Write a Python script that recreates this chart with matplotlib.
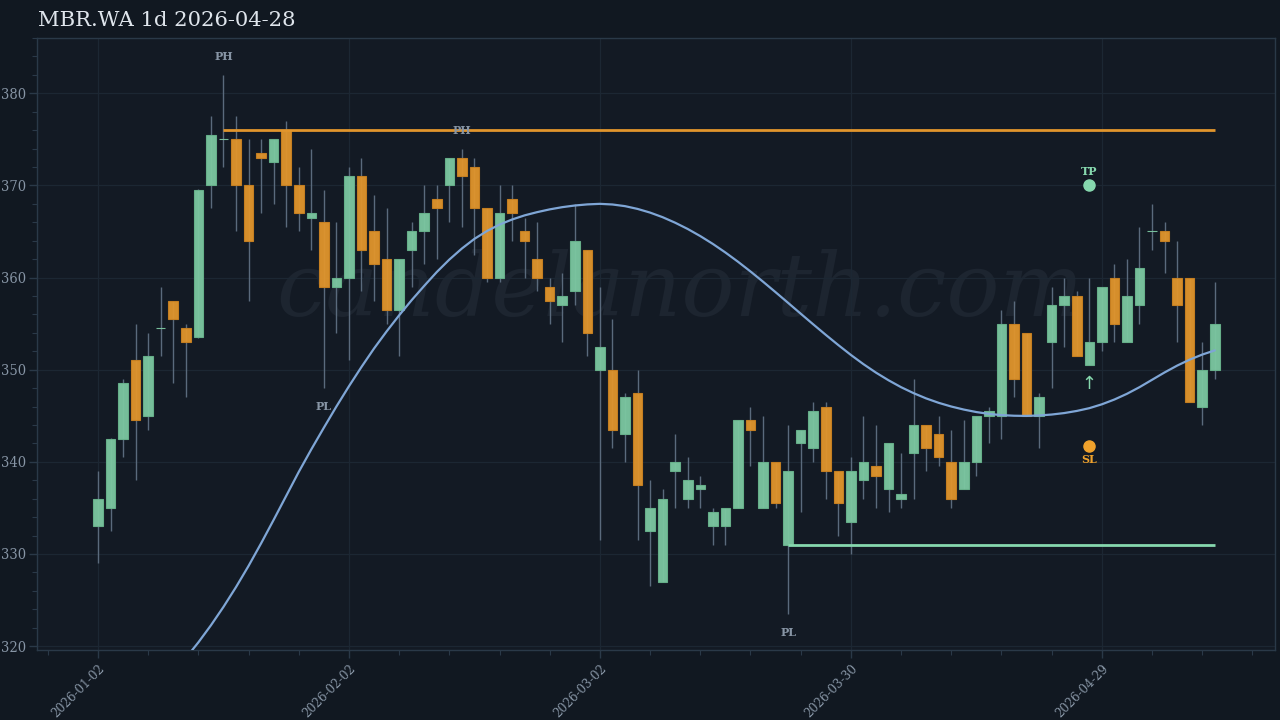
import matplotlib
matplotlib.use("Agg")
import matplotlib.pyplot as plt
from matplotlib.ticker import FixedLocator, MultipleLocator

# ---------------- data ----------------
title = "MBR.WA 1d 2026-04-28"

opens = [333.0, 335.0, 342.5, 351.0, 345.0, 354.5, 357.5, 354.5, 353.5, 370.0,
         375.0, 375.0, 370.0, 373.5, 372.5, 376.0, 370.0, 366.5, 366.0, 359.0,
         360.0, 371.0, 365.0, 362.0, 356.5, 363.0, 365.0, 368.5, 370.0, 373.0,
         372.0, 367.5, 360.0, 368.5, 365.0, 362.0, 359.0, 357.0, 358.5, 363.0,
         350.0, 350.0, 343.0, 347.5, 332.5, 327.0, 339.0, 336.0, 337.0, 333.0,
         333.0, 335.0, 344.5, 335.0, 340.0, 331.0, 342.0, 341.5, 346.0, 339.0,
         333.5, 338.0, 339.5, 337.0, 336.0, 341.0, 344.0, 343.0, 340.0, 337.0,
         340.0, 345.0, 345.0, 355.0, 354.0, 345.0, 353.0, 357.0, 358.0, 350.5,
         353.0, 360.0, 353.0, 357.0, 365.0, 365.0, 360.0, 360.0, 346.0, 350.0]
highs = [339.0, 342.6, 349.0, 355.0, 354.0, 359.0, 357.5, 355.0, 369.6, 377.5,
         382.0, 377.5, 375.0, 375.0, 375.0, 377.0, 372.0, 374.0, 369.5, 366.0,
         372.0, 373.0, 369.0, 367.5, 362.0, 366.0, 370.0, 370.0, 373.0, 374.0,
         373.0, 367.5, 370.0, 370.0, 366.5, 366.0, 360.0, 360.5, 368.0, 363.0,
         359.0, 355.5, 347.5, 350.0, 338.0, 337.0, 343.0, 340.5, 338.5, 335.0,
         335.0, 344.5, 346.0, 345.0, 340.0, 344.0, 343.5, 346.5, 346.5, 339.0,
         340.5, 345.0, 344.0, 342.0, 341.0, 349.0, 344.0, 345.0, 343.5, 344.5,
         345.0, 346.0, 356.5, 357.5, 354.0, 347.5, 359.0, 360.0, 358.5, 360.0,
         359.0, 361.5, 362.0, 365.5, 368.0, 366.0, 364.0, 360.0, 353.0, 359.5]
lows = [329.0, 332.5, 340.5, 338.0, 343.5, 351.5, 348.5, 347.0, 353.4, 367.5,
        372.0, 365.0, 357.5, 367.0, 368.0, 365.5, 365.0, 363.0, 348.0, 354.0,
        351.0, 358.5, 357.5, 355.0, 351.5, 359.0, 361.5, 362.0, 366.0, 365.5,
        362.5, 359.5, 359.5, 364.0, 360.0, 358.5, 355.0, 353.0, 357.0, 351.5,
        331.5, 341.5, 340.0, 331.5, 326.5, 327.0, 335.0, 335.0, 335.0, 331.0,
        331.0, 335.0, 339.5, 335.0, 335.0, 323.5, 334.5, 340.0, 336.0, 332.0,
        330.0, 336.0, 335.0, 334.5, 335.0, 336.0, 339.0, 339.5, 335.0, 337.0,
        338.5, 342.0, 342.5, 347.0, 345.0, 341.5, 348.0, 352.5, 351.5, 350.5,
        352.0, 353.0, 353.0, 355.0, 363.0, 360.5, 353.0, 346.5, 344.0, 349.0]
closes = [336.0, 342.5, 348.5, 344.5, 351.5, 354.5, 355.5, 353.0, 369.5, 375.5,
          375.0, 370.0, 364.0, 373.0, 375.0, 370.0, 367.0, 367.0, 359.0, 360.0,
          371.0, 363.0, 361.5, 356.5, 362.0, 365.0, 367.0, 367.5, 373.0, 371.0,
          367.5, 360.0, 367.0, 367.0, 364.0, 360.0, 357.5, 358.0, 364.0, 354.0,
          352.5, 343.5, 347.0, 337.5, 335.0, 336.0, 340.0, 338.0, 337.5, 334.5,
          335.0, 344.5, 343.5, 340.0, 335.5, 339.0, 343.5, 345.5, 339.0, 335.5,
          339.0, 340.0, 338.5, 342.0, 336.5, 344.0, 341.5, 340.5, 336.0, 340.0,
          345.0, 345.5, 355.0, 349.0, 345.0, 347.0, 357.0, 358.0, 351.5, 353.0,
          359.0, 355.0, 358.0, 361.0, 365.0, 364.0, 357.0, 346.5, 350.0, 355.0]

# smooth trend line (visible from bar 7 onward)
trend_start = 7
trend = [318.7, 320.4, 322.25, 324.25, 326.4, 328.7, 331.15, 333.7, 336.3, 338.9,
         341.35, 343.7, 346.0, 348.2, 350.3, 352.3, 354.15, 355.9, 357.55, 359.1,
         360.6, 361.95, 363.15, 364.2, 365.05, 365.75, 366.3, 366.75, 367.1, 367.4,
         367.64, 367.82, 367.94, 368.0, 367.93, 367.75, 367.45, 367.05, 366.55, 365.95,
         365.27, 364.5, 363.65, 362.72, 361.72, 360.66, 359.55, 358.41, 357.25, 356.08,
         354.92, 353.78, 352.67, 351.6, 350.6, 349.68, 348.85, 348.1, 347.45, 346.88,
         346.4, 346.0, 345.67, 345.4, 345.2, 345.07, 345.0, 344.98, 345.03, 345.13,
         345.29, 345.52, 345.82, 346.24, 346.76, 347.38, 348.1, 348.9, 349.7, 350.44,
         351.09, 351.64, 352.09]

# levels & annotations
ph_idx = [10, 29]
pl_idx = [18, 55]
res_level, res_from = 376.0, 10
sup_level, sup_from = 331.0, 55
sig_idx = 79
tp_level = 370.0
sl_level = 341.7

xtick_pos = [0, 20, 40, 60, 80]
xtick_labels = ["2026-01-02", "2026-02-02", "2026-03-02", "2026-03-30", "2026-04-29"]

# ---------------- style ----------------
BG = "#111821"
AX_BG = "#131a24"
GRID = "#1c2733"
SPINE = "#2a3948"
TXT = "#8795a5"
GREEN = "#7cc8a1"
GREEN_E = "#68b38c"
ORANGE = "#e1952c"
ORANGE_E = "#c98121"
WICK = "#5a6a7c"
BLUE = "#7fa6d6"
LINE_GREEN = "#86d8ae"

fig = plt.figure(figsize=(12.8, 7.2), dpi=100, facecolor=BG)
ax = fig.add_axes([0.0289, 0.0972, 0.9672, 0.85])
ax.set_facecolor(AX_BG)

n = len(opens)
xs = list(range(n))

# watermark
ax.text(0.519, 0.585, "candelanorth.com", transform=ax.transAxes, ha="center",
        va="center", fontsize=63.5, style="italic", family="DejaVu Serif",
        color="#1d2530", zorder=0.5)

# wicks
ax.vlines(xs, lows, highs, color=WICK, linewidth=1.0, zorder=2)

# bodies
for i in xs:
    o, c = opens[i], closes[i]
    up = c >= o
    fc = GREEN if up else ORANGE
    ec = GREEN_E if up else ORANGE_E
    h = abs(c - o)
    ax.bar(i, h, bottom=min(o, c), width=0.76, color=fc, edgecolor=ec if h > 0 else fc,
           linewidth=0.8, alpha=0.95, zorder=3)

# trend line
ax.plot(list(range(trend_start, trend_start + len(trend))), trend, color=BLUE,
        linewidth=1.6, zorder=4, solid_capstyle="round", solid_joinstyle="round")

# levels
ax.hlines(res_level, res_from, n - 1, color=ORANGE, linewidth=2, zorder=4)
ax.hlines(sup_level, sup_from, n - 1, color=LINE_GREEN, linewidth=2, zorder=4)

# pivot labels
for i in ph_idx:
    ax.text(i, highs[i] + 2.0, "PH", ha="center", va="center", fontsize=8,
            fontweight="bold", family="DejaVu Serif", color=TXT, zorder=5)
for i in pl_idx:
    ax.text(i, lows[i] - 2.0, "PL", ha="center", va="center", fontsize=8,
            fontweight="bold", family="DejaVu Serif", color=TXT, zorder=5)

# signal
ax.plot([sig_idx], [tp_level], "o", color=LINE_GREEN, markersize=8, zorder=6)
ax.text(sig_idx, tp_level + 1.5, "TP", ha="center", va="center", fontsize=8,
        fontweight="bold", family="DejaVu Serif", color=LINE_GREEN, zorder=6)
ax.plot([sig_idx], [sl_level], "o", color="#f0a22c", markersize=8, zorder=6)
ax.text(sig_idx, sl_level - 1.5, "SL", ha="center", va="center", fontsize=8,
        fontweight="bold", family="DejaVu Serif", color="#f0a22c", zorder=6)
ax.text(sig_idx, lows[sig_idx] - 2.1, "\u2191", ha="center", va="center", fontsize=13,
        family="DejaVu Sans", color=LINE_GREEN, zorder=6)

# axes
ax.set_xlim(-4.86, 93.8)
ax.set_ylim(319.57, 386.0)
ax.yaxis.set_major_locator(FixedLocator([320, 330, 340, 350, 360, 370, 380]))
ax.yaxis.set_minor_locator(MultipleLocator(2))
ax.xaxis.set_major_locator(FixedLocator(xtick_pos))
ax.xaxis.set_minor_locator(MultipleLocator(4))
ax.set_xticklabels(xtick_labels, rotation=45, ha="right", rotation_mode="anchor")

ax.grid(True, which="major", color=GRID, linewidth=0.9, zorder=0)
ax.set_axisbelow(True)
for s in ax.spines.values():
    s.set_color(SPINE)
    s.set_linewidth(1.0)
ax.tick_params(which="major", colors=SPINE, length=6, width=1, labelcolor=TXT,
               labelsize=10.5)
ax.tick_params(axis="x", which="major", labelsize=9.6, pad=2.5)
ax.tick_params(axis="y", which="major", pad=2)
ax.tick_params(which="minor", colors=SPINE, length=3.5, width=0.8)
for lab in ax.get_xticklabels() + ax.get_yticklabels():
    lab.set_family("DejaVu Serif")
    lab.set_fontstretch("condensed")

fig.text(0.0297, 0.972, title, ha="left", va="center", fontsize=15.2,
         family="DejaVu Serif", color="#dfe5ec")

fig.savefig("out.png", dpi=100, facecolor=BG)
